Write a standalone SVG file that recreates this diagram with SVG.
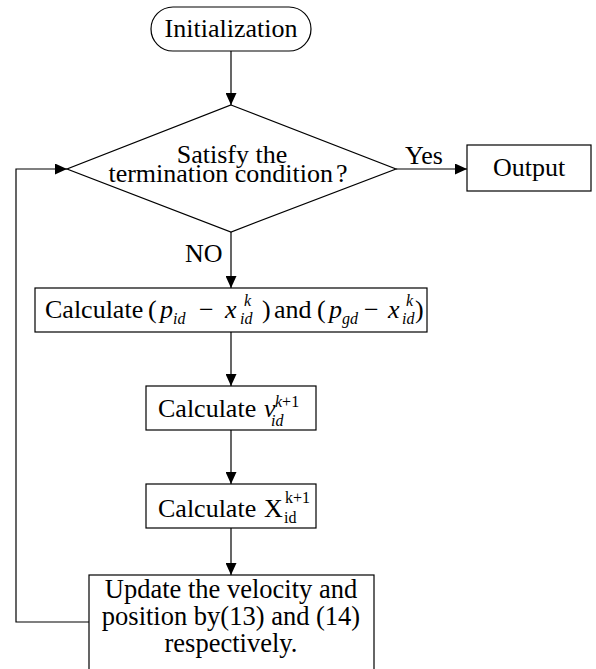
<svg xmlns="http://www.w3.org/2000/svg" width="596" height="669" viewBox="0 0 596 669">
<style>
  .shape { fill: #fff; stroke: #000; stroke-width: 1.2; }
  .conn { fill: none; stroke: #000; stroke-width: 1.2; }
  text { font-family: "Liberation Serif", "Times New Roman", serif; font-size: 26px; fill: #000; }
  .c { text-anchor: middle; }
  .it { font-style: italic; }
  .sm { font-size: 16px; }
  .big { font-size: 26.5px; }
</style>
<defs>
  <marker id="arr" viewBox="0 0 12 11" refX="12" refY="5.5" markerWidth="12" markerHeight="11" orient="auto" markerUnits="userSpaceOnUse">
    <path d="M0,0 L12,5.5 L0,11 z" fill="#000"/>
  </marker>
</defs>
<rect width="596" height="669" fill="#fff"/>

<g id="connectors">
  <path class="conn" d="M231,51 V105" marker-end="url(#arr)"/>
  <path class="conn" d="M231,232 V288" marker-end="url(#arr)"/>
  <path class="conn" d="M231,332 V386" marker-end="url(#arr)"/>
  <path class="conn" d="M231,430 V484" marker-end="url(#arr)"/>
  <path class="conn" d="M231,528 V575" marker-end="url(#arr)"/>
  <path class="conn" d="M396,169 H467" marker-end="url(#arr)"/>
  <path class="conn" d="M89,622 H16 V169 H67" marker-end="url(#arr)"/>
  <text x="405" y="164">Yes</text>
  <text x="185" y="262">NO</text>
</g>

<g id="init">
  <rect class="shape" x="151" y="7" width="160" height="44" rx="22" ry="22"/>
  <text class="c" x="231" y="37">Initialization</text>
</g>

<g id="decision">
  <path class="shape" d="M231,105 L396,169 L231,232 L67,169 Z"/>
  <text class="c" x="232" y="163">Satisfy the</text>
  <text class="c" x="228" y="182">termination condition<tspan dx="3">?</tspan></text>
</g>

<g id="output">
  <rect class="shape" x="467" y="145" width="124" height="46"/>
  <text class="c" x="529" y="176">Output</text>
</g>

<g id="calc1">
  <rect class="shape" x="35" y="288" width="392" height="44"/>
  <text x="45" y="318">Calculate</text>
  <text x="148" y="318">(</text>
  <text class="it" x="160" y="318">p</text>
  <text class="it sm" x="173" y="324">id</text>
  <text x="199" y="318">−</text>
  <text class="it" x="225" y="318">x</text>
  <text class="it sm" x="244" y="306">k</text>
  <text class="it sm" x="240" y="324">id</text>
  <text x="262" y="318">)</text>
  <text x="274" y="318">and</text>
  <text x="317" y="318">(</text>
  <text class="it" x="329" y="318">p</text>
  <text class="it sm" x="342" y="324">gd</text>
  <text x="364" y="318">−</text>
  <text class="it" x="388" y="318">x</text>
  <text class="it sm" x="406" y="306">k</text>
  <text class="it sm" x="402" y="324">id</text>
  <text x="415" y="318">)</text>
</g>

<g id="calc2">
  <rect class="shape" x="146" y="386" width="170" height="44"/>
  <text x="158" y="417">Calculate</text>
  <text class="it" x="264" y="417">v</text>
  <text class="sm" x="275" y="407"><tspan class="it">k</tspan>+1</text>
  <text class="it sm" x="271" y="426">id</text>
</g>

<g id="calc3">
  <rect class="shape" x="146" y="484" width="170" height="44"/>
  <text x="158" y="517">Calculate</text>
  <text x="264" y="517">X</text>
  <text class="sm" x="285" y="503">k+1</text>
  <text class="sm" x="284" y="523">id</text>
</g>

<g id="update">
  <rect class="shape" x="89" y="575" width="285" height="100"/>
  <text class="c big" x="231" y="598">Update the velocity and</text>
  <text class="c big" x="231" y="625">position by(13) and (14)</text>
  <text class="c big" x="231" y="652">respectively.</text>
</g>
</svg>
